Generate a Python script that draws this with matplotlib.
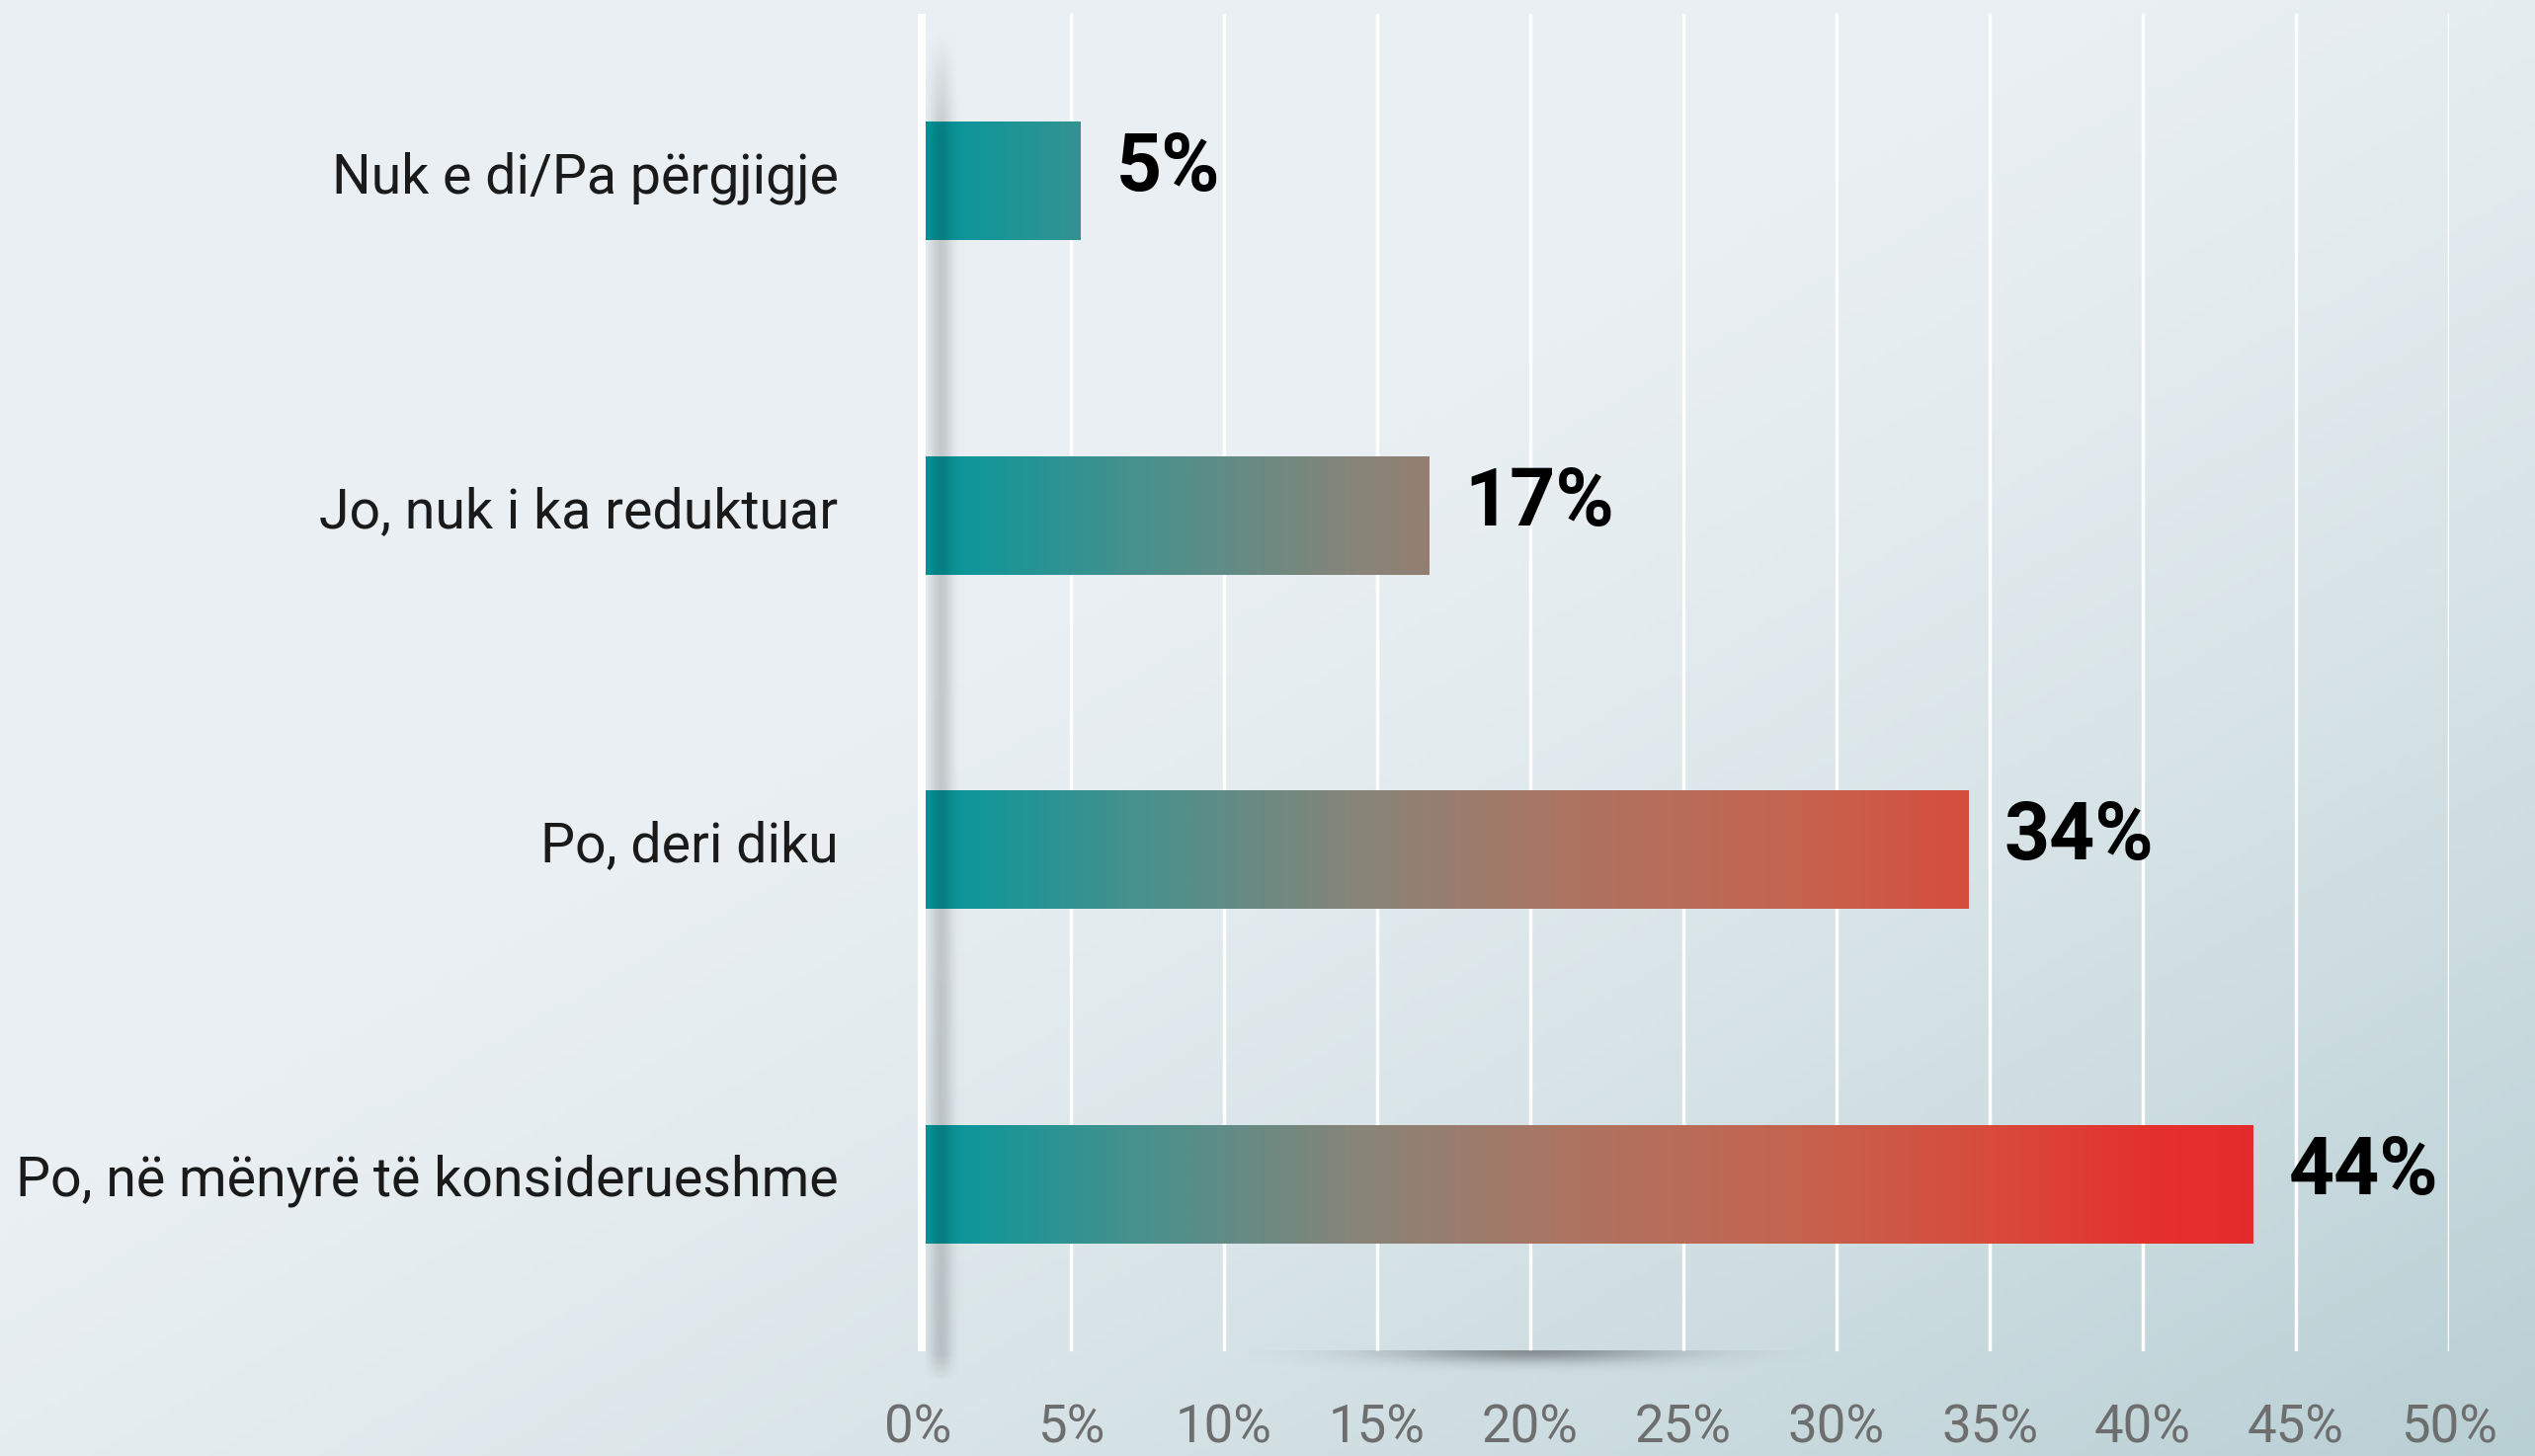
import numpy as np
import matplotlib.pyplot as plt
from matplotlib.colors import LinearSegmentedColormap
from matplotlib.transforms import ScaledTranslation

categories = ['Nuk e di/Pa përgjigje', 'Jo, nuk i ka reduktuar',
              'Po, deri diku', 'Po, në mënyrë të konsiderueshme']
values = [5.3, 16.7, 34.3, 43.6]
xticks = [0, 5, 10, 15, 20, 25, 30, 35, 40, 45, 50]

plt.rcParams['font.family'] = ['Roboto', 'DejaVu Sans']

W, H = 2566, 1474
fig = plt.figure(figsize=(W / 100, H / 100), dpi=100)

# background gradient
bg = fig.add_axes([0, 0, 1, 1], zorder=-5)
gx, gy = np.meshgrid(np.linspace(0, 1, 300), np.linspace(0, 1, 200))
t = np.clip((gx + gy - 0.85) / 1.15, 0, 1) ** 1.3
c0 = np.array([233, 239, 242]) / 255
c1 = np.array([184, 207, 212]) / 255
img = c0[None, None, :] * (1 - t[..., None]) + c1[None, None, :] * t[..., None]
bg.imshow(img, extent=[0, 1, 0, 1], origin='upper', aspect='auto')
bg.set_xlim(0, 1)
bg.set_ylim(0, 1)
bg.axis('off')

ax = fig.add_axes([929 / W, 1 - 1368 / H, 1550 / W, 1354 / H])
ax.patch.set_visible(False)
y = np.arange(len(categories))
bars = ax.barh(y, values, height=0.354, color='none', zorder=2)

# colour gradient along the whole scale, clipped to each bar
cmap = LinearSegmentedColormap.from_list('tr', [
    (0.0, '#00979c'), (0.16, '#46918e'), (0.32, '#86857a'),
    (0.48, '#ac7562'), (0.65, '#c4644f'), (0.80, '#d84a3c'),
    (0.92, '#e4302d'), (1.0, '#e52b2c')])
grad = np.linspace(0, 1, 512)[None, :]
for b in bars:
    im = ax.imshow(grad, cmap=cmap, extent=[0, 44, 3.5, -0.5],
                   aspect='auto', zorder=2)
    im.set_clip_path(b)

for i, v in enumerate(values):
    ax.annotate(f'{round(v)}%', (v, i + 0.03), xytext=(26, 0),
                textcoords='offset points', va='baseline', ha='left',
                fontsize=58, fontweight='bold', color='black')

# grid lines
for xv in xticks[1:]:
    ax.axvline(xv, color='white', lw=2.5, zorder=1)
ax.axvline(0, color='white', lw=10.8, zorder=4)

# shadow right of the zero line
sx = np.linspace(0, 1, 100)
sy = np.linspace(0, 1, 200)
SX, SY = np.meshgrid(sx, sy)
alpha = np.exp(-((SX - 0.3) / 0.22) ** 2) * 0.16
alpha *= np.clip(SY / 0.02, 0, 1) * np.clip((1 - SY) / 0.08, 0, 1)
shade = np.zeros((200, 100, 4))
shade[..., 3] = alpha
ax.imshow(shade, extent=[0.25, 1.9, -0.46, 3.6], aspect='auto',
          zorder=3, clip_on=False)

# soft shadow under the baseline
ex = np.linspace(-1, 1, 200)
ey = np.linspace(0, 1, 50)
EX, EY = np.meshgrid(ex, ey)
ea = np.exp(-(EX / 0.5) ** 2) * np.exp(-(EY / 0.4) ** 2) * 0.35
esh = np.zeros((50, 200, 4))
esh[..., 3] = ea
ax.imshow(esh, extent=[10.5, 29.5, 3.59, 3.5], aspect='auto', zorder=1,
          clip_on=False)

ax.set_xlim(0, 50)
ax.set_ylim(3.5, -0.5)
ax.set_yticks(y)
ax.set_yticklabels(categories, fontsize=40, color='#1a1a1a')
ax.set_xticks(xticks)
ax.set_xticklabels([f'{v}%' for v in xticks], fontsize=38, color='#6e6e6e')
ax.tick_params(axis='y', length=0, pad=58)
ax.tick_params(axis='x', length=0, pad=38)
for lbl in ax.get_yticklabels():
    lbl.set_transform(lbl.get_transform()
                      + ScaledTranslation(0, 0.09, fig.dpi_scale_trans))
for s in ax.spines.values():
    s.set_visible(False)

fig.savefig('out.png', dpi=100)
